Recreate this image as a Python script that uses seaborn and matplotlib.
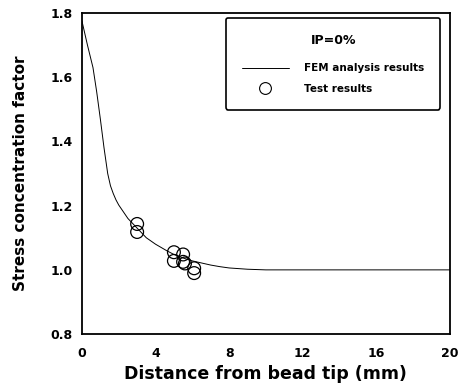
import matplotlib
matplotlib.use("Agg")
import matplotlib.pyplot as plt
import seaborn as sns
import pandas as pd
import numpy as np
from matplotlib.lines import Line2D
from matplotlib.ticker import MultipleLocator

# FEM analysis curve
fem_x = [0.0, 0.3, 0.6, 0.8, 1.0, 1.2, 1.4, 1.55, 1.7, 1.85, 2.0, 2.5, 3.0, 3.5, 4.0, 4.6, 5.0, 5.5, 6.0, 7.0, 7.5, 8.0, 9.0, 10.0, 14.0, 20.0]
fem_y = [1.775, 1.70, 1.63, 1.555, 1.47, 1.38, 1.30, 1.262, 1.238, 1.218, 1.202, 1.16, 1.13, 1.10, 1.08, 1.06, 1.048, 1.037, 1.028, 1.015, 1.010, 1.006, 1.002, 1.0, 1.0, 1.0]

# Test results
test_x = [3.0, 3.0, 5.0, 5.0, 5.5, 5.5, 5.6, 6.1, 6.1]
test_y = [1.143, 1.118, 1.055, 1.028, 1.048, 1.025, 1.020, 1.005, 0.990]

x_ticks = [0, 4, 8, 12, 16, 20]
y_ticks = [0.8, 1.0, 1.2, 1.4, 1.6, 1.8]

sns.set_style("white")
plt.rcParams['font.family'] = ['DejaVu Sans']
for k in ["text.color", "axes.labelcolor", "xtick.color", "ytick.color"]:
    plt.rcParams[k] = "black"

fig = plt.figure(figsize=(4.71, 3.84), dpi=100)
ax = fig.add_axes([0.174, 0.130, 0.781, 0.836])

fem = pd.DataFrame({"x": fem_x, "y": fem_y})
tst = pd.DataFrame({"x": test_x, "y": test_y})

sns.lineplot(data=fem, x="x", y="y", ax=ax, color="black", linewidth=0.7, sort=True)
sns.scatterplot(data=tst, x="x", y="y", ax=ax, s=85, facecolor="none",
                edgecolor="black", linewidth=0.9, marker="o")

ax.set_xlim(0, 20)
ax.set_ylim(0.8, 1.8)
ax.set_xticks(x_ticks)
ax.set_yticks(y_ticks)
ax.set_xticklabels([str(v) for v in x_ticks], fontweight="bold", fontsize=9)
ax.set_yticklabels([f"{v:.1f}" for v in y_ticks], fontweight="bold", fontsize=9)
ax.xaxis.set_minor_locator(MultipleLocator(2))
ax.yaxis.set_minor_locator(MultipleLocator(0.1))
ax.tick_params(which="both", direction="inout", length=6, width=1.2, color="black")
ax.tick_params(axis="x", pad=6)

for sp in ax.spines.values():
    sp.set_visible(True)
    sp.set_color("black")
    sp.set_linewidth(1.3)

ax.set_xlabel("Distance from bead tip (mm)", fontsize=12.5, fontweight="heavy", labelpad=4)
ax.set_ylabel("Stress concentration factor", fontsize=11, fontweight="heavy", labelpad=16)

handles = [Line2D([], [], color="black", linewidth=0.7),
           Line2D([], [], marker="o", linestyle="none", markersize=8.5,
                  markerfacecolor="none", markeredgecolor="black", markeredgewidth=0.8)]
leg = ax.legend(handles, ["FEM analysis results", "Test results"],
                title="IP=0%", loc="upper right", bbox_to_anchor=(0.973, 0.984),
                borderaxespad=0, fancybox=True, frameon=True, handlelength=4.5,
                handletextpad=1.45, borderpad=1.5, labelspacing=1.0,
                prop={"weight": "bold", "size": 7.5},
                title_fontproperties={"weight": "bold", "size": 9})
leg.get_frame().set_edgecolor("black")
leg.get_frame().set_linewidth(1.2)
leg.get_frame().set_alpha(1)
leg._legend_box.sep = 12

fig.savefig("out.png", dpi=100)
